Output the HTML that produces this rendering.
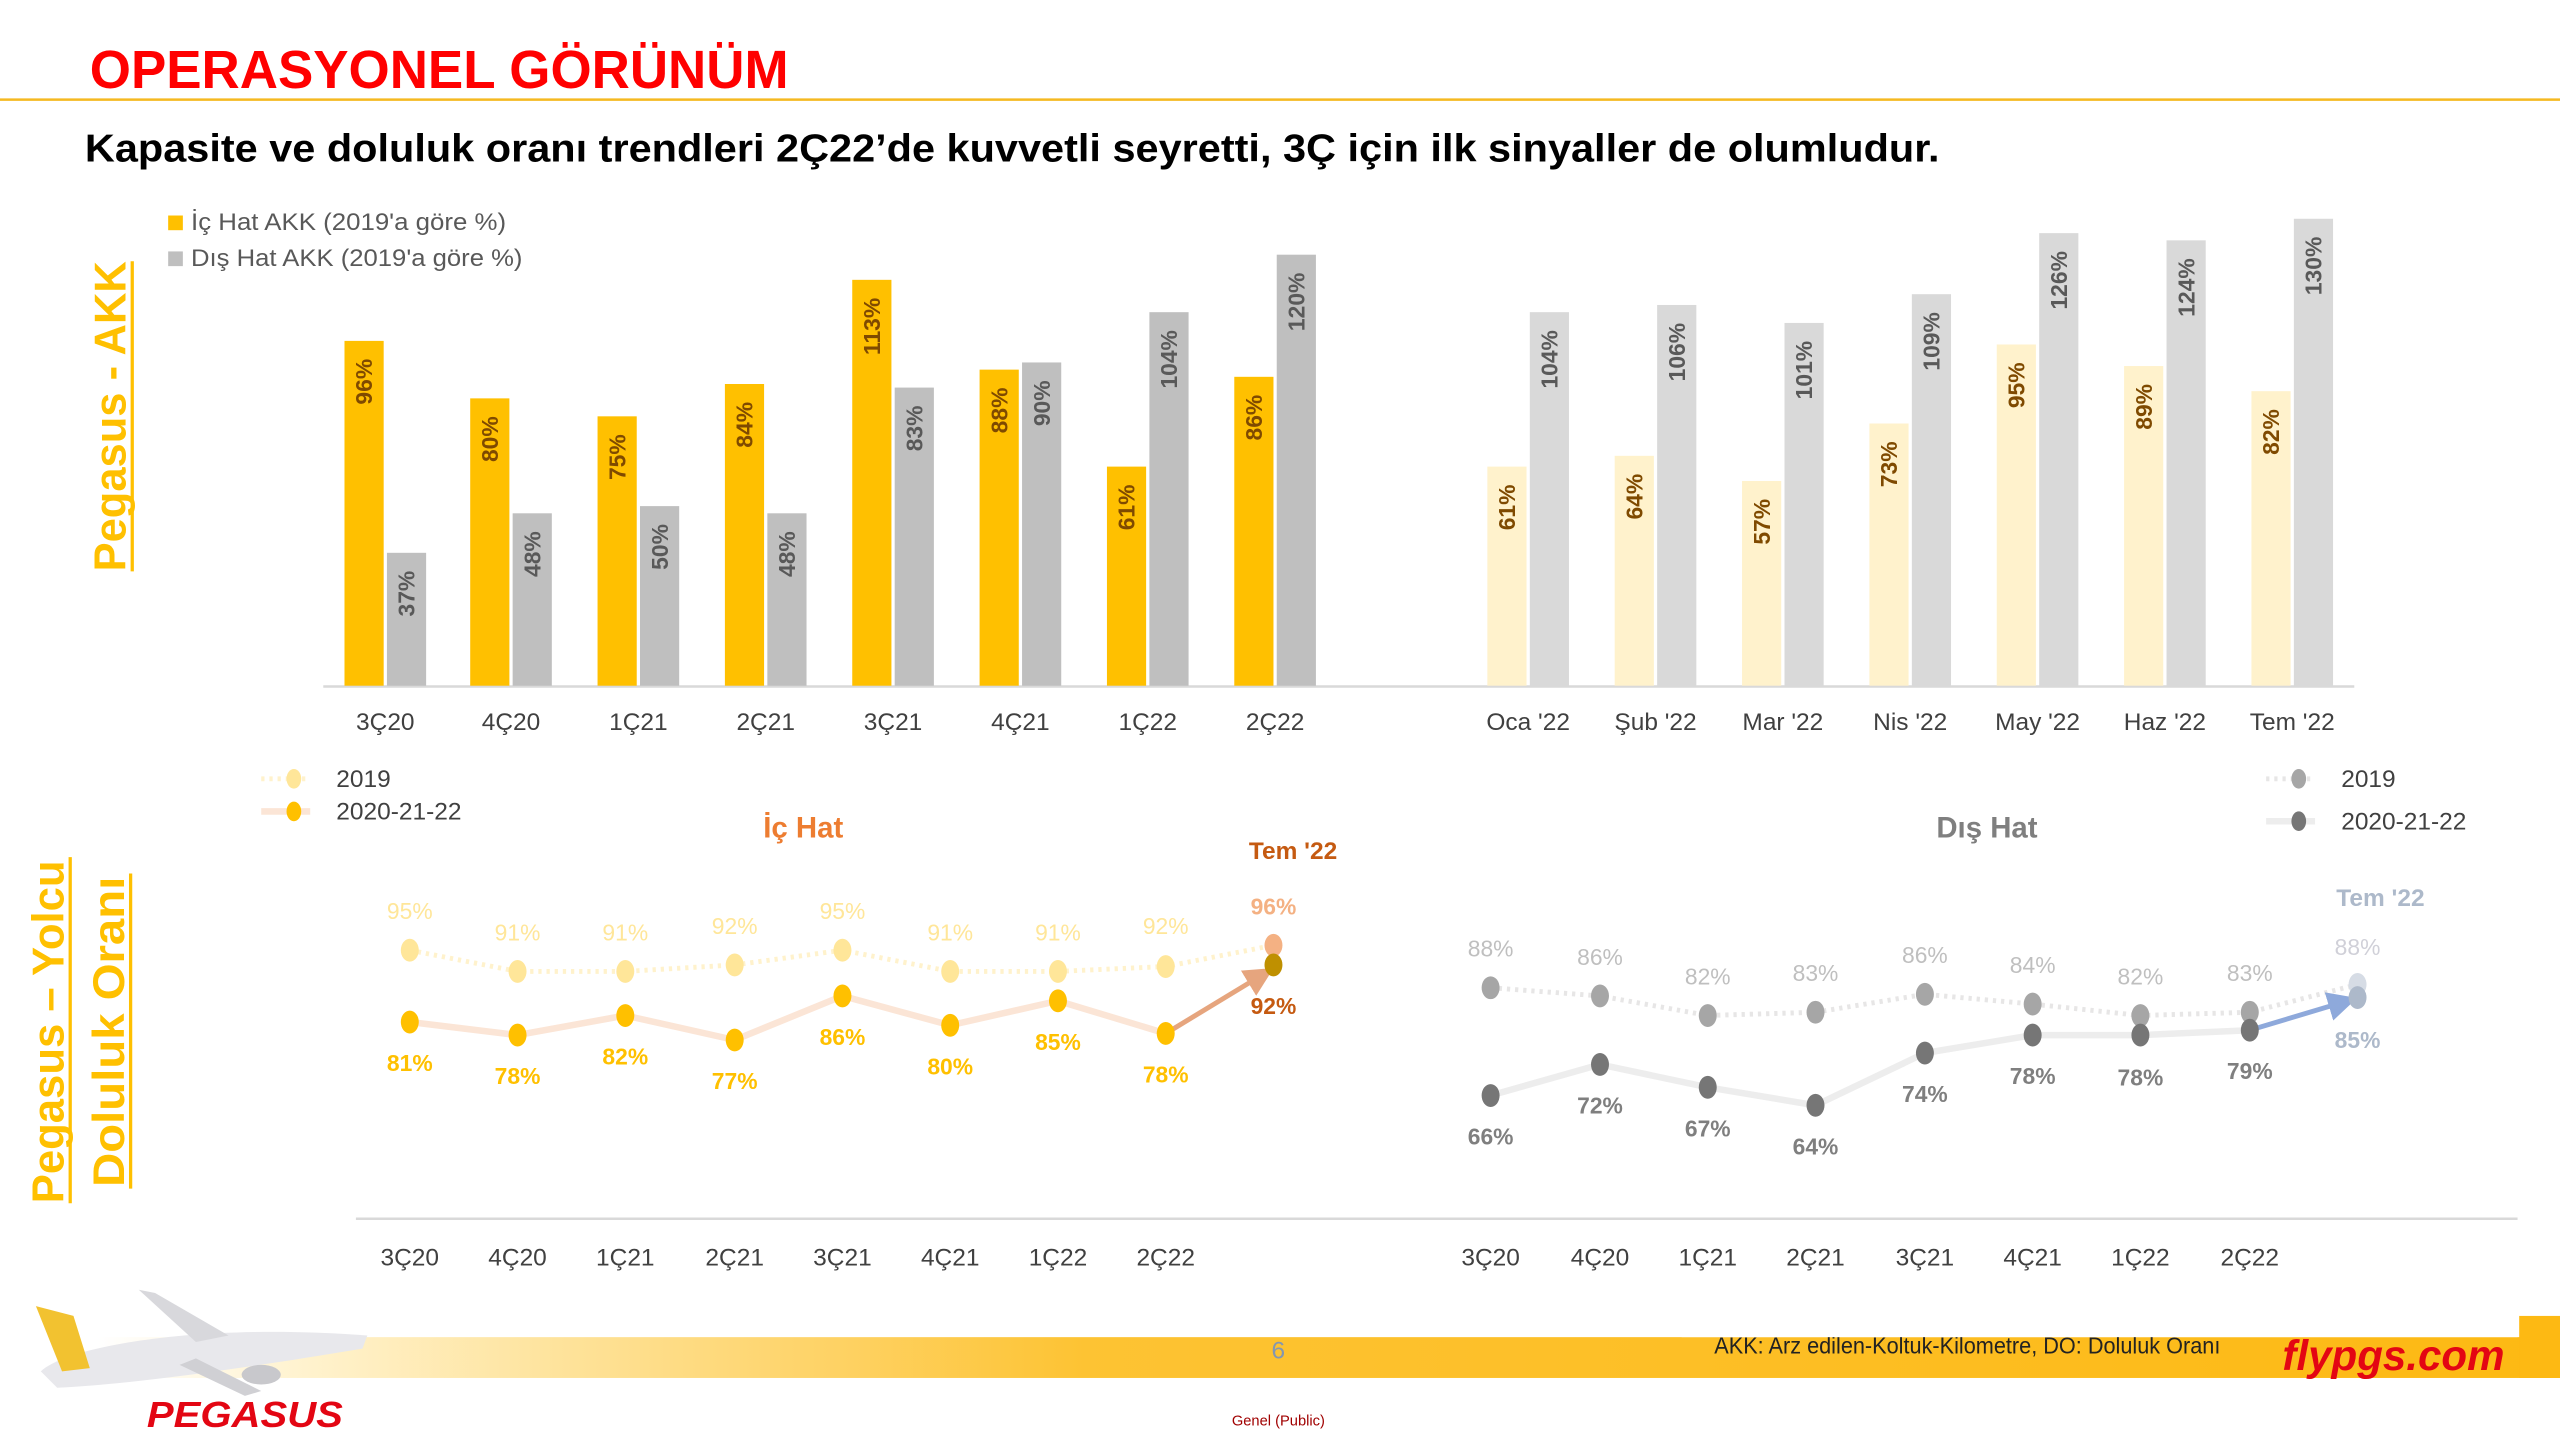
<!DOCTYPE html>
<html><head><meta charset="utf-8"><style>
html,body{margin:0;padding:0;background:#fff;}
svg{display:block;}
text{font-family:"Liberation Sans","DejaVu Sans",sans-serif;}
.cat{font-size:15px;fill:#404040;text-anchor:middle;}
.by{font-size:14px;font-weight:bold;fill:#7F4A00;text-anchor:end;}
.bg{font-size:14px;font-weight:bold;fill:#595959;text-anchor:end;}
.l19{font-size:14px;fill:#FFE699;text-anchor:middle;}
.lac{font-size:14px;font-weight:bold;fill:#FFC000;text-anchor:middle;}
.r19{font-size:14px;fill:#BFBFBF;text-anchor:middle;}
.rac{font-size:14px;font-weight:bold;fill:#7F7F7F;text-anchor:middle;}
</style></head><body>
<svg width="2560" height="1440" viewBox="0 0 1568 882" xmlns="http://www.w3.org/2000/svg">
<defs>
<linearGradient id="band" x1="0" x2="1" y1="0" y2="0">
<stop offset="0" stop-color="#FFFFFF"/><stop offset="0.08" stop-color="#FFF3D0"/><stop offset="0.4" stop-color="#FDC333"/><stop offset="1" stop-color="#FDB913"/>
</linearGradient>
<marker id="arO" markerWidth="6" markerHeight="6" refX="4" refY="3" orient="auto"><path d="M0,0 L6,3 L0,6 z" fill="#E6A57E"/></marker>
<marker id="arB" markerWidth="6" markerHeight="6" refX="4" refY="3" orient="auto"><path d="M0,0 L6,3 L0,6 z" fill="#8EA9DB"/></marker>
</defs>
<text x="55" y="54" font-size="33" font-weight="bold" fill="#FF0000" textLength="428" lengthAdjust="spacingAndGlyphs">OPERASYONEL GÖRÜNÜM</text>
<line x1="0" y1="61" x2="1568" y2="61" stroke="#F5B921" stroke-width="1.5"/>
<text x="52" y="99" font-size="24" font-weight="bold" fill="#000" textLength="1136" lengthAdjust="spacingAndGlyphs">Kapasite ve doluluk oranı trendleri 2Ç22’de kuvvetli seyretti, 3Ç için ilk sinyaller de olumludur.</text>
<rect x="103" y="132" width="9" height="9" fill="#FFC000"/>
<text x="117" y="141" font-size="15" fill="#595959" textLength="193" lengthAdjust="spacingAndGlyphs">İç Hat AKK (2019'a göre %)</text>
<rect x="103" y="154" width="9" height="9" fill="#BFBFBF"/>
<text x="117" y="163" font-size="15" fill="#595959" textLength="203" lengthAdjust="spacingAndGlyphs">Dış Hat AKK (2019'a göre %)</text>
<text transform="translate(77,255) rotate(-90)" text-anchor="middle" font-size="27" font-weight="bold" fill="#FFC000" textLength="190" lengthAdjust="spacingAndGlyphs">Pegasus - AKK</text>
<line x1="81" y1="160" x2="81" y2="350" stroke="#FFC000" stroke-width="2"/>
<text transform="translate(39,632) rotate(-90)" text-anchor="middle" font-size="27" font-weight="bold" fill="#FFC000" textLength="210" lengthAdjust="spacingAndGlyphs">Pegasus – Yolcu</text>
<line x1="43" y1="525" x2="43" y2="737" stroke="#FFC000" stroke-width="2"/>
<text transform="translate(76,632) rotate(-90)" text-anchor="middle" font-size="27" font-weight="bold" fill="#FFC000" textLength="190" lengthAdjust="spacingAndGlyphs">Doluluk Oranı</text>
<line x1="80" y1="535" x2="80" y2="728" stroke="#FFC000" stroke-width="2"/>

<line x1="198" y1="420.5" x2="1442" y2="420.5" stroke="#D9D9D9" stroke-width="1.5"/>
<g fill="#FFC000">
<rect x="211" y="208.8" width="24" height="211.2"/>
<rect x="288" y="244" width="24" height="176"/>
<rect x="366" y="255" width="24" height="165"/>
<rect x="444" y="235.2" width="24" height="184.8"/>
<rect x="522" y="171.4" width="24" height="248.6"/>
<rect x="600" y="226.4" width="24" height="193.6"/>
<rect x="678" y="285.8" width="24" height="134.2"/>
<rect x="756" y="230.8" width="24" height="189.2"/>
</g>
<g fill="#BFBFBF">
<rect x="237" y="338.6" width="24" height="81.4"/>
<rect x="314" y="314.4" width="24" height="105.6"/>
<rect x="392" y="310" width="24" height="110"/>
<rect x="470" y="314.4" width="24" height="105.6"/>
<rect x="548" y="237.4" width="24" height="182.6"/>
<rect x="626" y="222" width="24" height="198"/>
<rect x="704" y="191.2" width="24" height="228.8"/>
<rect x="782" y="156" width="24" height="264"/>
</g>
<g fill="#FFF2CC">
<rect x="911" y="285.8" width="24" height="134.2"/>
<rect x="989" y="279.2" width="24" height="140.8"/>
<rect x="1067" y="294.6" width="24" height="125.4"/>
<rect x="1145" y="259.4" width="24" height="160.6"/>
<rect x="1223" y="211" width="24" height="209"/>
<rect x="1301" y="224.2" width="24" height="195.8"/>
<rect x="1379" y="239.6" width="24" height="180.4"/>
</g>
<g fill="#D9D9D9">
<rect x="937" y="191.2" width="24" height="228.8"/>
<rect x="1015" y="186.8" width="24" height="233.2"/>
<rect x="1093" y="197.8" width="24" height="222.2"/>
<rect x="1171" y="180.2" width="24" height="239.8"/>
<rect x="1249" y="142.8" width="24" height="277.2"/>
<rect x="1327" y="147.2" width="24" height="272.8"/>
<rect x="1405" y="134" width="24" height="286"/>
</g>
<text class="by" transform="translate(228,219.8) rotate(-90)">96%</text>
<text class="by" transform="translate(305,255) rotate(-90)">80%</text>
<text class="by" transform="translate(383,266) rotate(-90)">75%</text>
<text class="by" transform="translate(461,246.2) rotate(-90)">84%</text>
<text class="by" transform="translate(539,182.4) rotate(-90)">113%</text>
<text class="by" transform="translate(617,237.4) rotate(-90)">88%</text>
<text class="by" transform="translate(695,296.8) rotate(-90)">61%</text>
<text class="by" transform="translate(773,241.8) rotate(-90)">86%</text>
<text class="bg" transform="translate(254,349.6) rotate(-90)">37%</text>
<text class="bg" transform="translate(331,325.4) rotate(-90)">48%</text>
<text class="bg" transform="translate(409,321) rotate(-90)">50%</text>
<text class="bg" transform="translate(487,325.4) rotate(-90)">48%</text>
<text class="bg" transform="translate(565,248.4) rotate(-90)">83%</text>
<text class="bg" transform="translate(643,233) rotate(-90)">90%</text>
<text class="bg" transform="translate(721,202.2) rotate(-90)">104%</text>
<text class="bg" transform="translate(799,167) rotate(-90)">120%</text>
<text class="by" transform="translate(928,296.8) rotate(-90)">61%</text>
<text class="by" transform="translate(1006,290.2) rotate(-90)">64%</text>
<text class="by" transform="translate(1084,305.6) rotate(-90)">57%</text>
<text class="by" transform="translate(1162,270.4) rotate(-90)">73%</text>
<text class="by" transform="translate(1240,222) rotate(-90)">95%</text>
<text class="by" transform="translate(1318,235.2) rotate(-90)">89%</text>
<text class="by" transform="translate(1396,250.6) rotate(-90)">82%</text>
<text class="bg" transform="translate(954,202.2) rotate(-90)">104%</text>
<text class="bg" transform="translate(1032,197.8) rotate(-90)">106%</text>
<text class="bg" transform="translate(1110,208.8) rotate(-90)">101%</text>
<text class="bg" transform="translate(1188,191.2) rotate(-90)">109%</text>
<text class="bg" transform="translate(1266,153.8) rotate(-90)">126%</text>
<text class="bg" transform="translate(1344,158.2) rotate(-90)">124%</text>
<text class="bg" transform="translate(1422,145) rotate(-90)">130%</text>
<text x="236" y="447" class="cat">3Ç20</text><text x="313" y="447" class="cat">4Ç20</text><text x="391" y="447" class="cat">1Ç21</text><text x="469" y="447" class="cat">2Ç21</text><text x="547" y="447" class="cat">3Ç21</text><text x="625" y="447" class="cat">4Ç21</text><text x="703" y="447" class="cat">1Ç22</text><text x="781" y="447" class="cat">2Ç22</text>
<text x="936" y="447" class="cat">Oca '22</text><text x="1014" y="447" class="cat">Şub '22</text><text x="1092" y="447" class="cat">Mar '22</text><text x="1170" y="447" class="cat">Nis '22</text><text x="1248" y="447" class="cat">May '22</text><text x="1326" y="447" class="cat">Haz '22</text><text x="1404" y="447" class="cat">Tem '22</text>

<line x1="160" y1="477" x2="190" y2="477" stroke="#FFF2CC" stroke-width="3" stroke-dasharray="2 3"/>
<ellipse cx="180" cy="477" rx="4.5" ry="6" fill="#FFE699"/>
<text x="206" y="482" font-size="15" fill="#404040">2019</text>
<line x1="160" y1="497" x2="190" y2="497" stroke="#FBE5D6" stroke-width="4"/>
<ellipse cx="180" cy="497" rx="4.5" ry="6" fill="#FFC000"/>
<text x="206" y="502" font-size="15" fill="#404040">2020-21-22</text>
<line x1="1388" y1="477" x2="1418" y2="477" stroke="#E7E6E6" stroke-width="3" stroke-dasharray="2 3"/>
<ellipse cx="1408" cy="477" rx="4.5" ry="6" fill="#A6A6A6"/>
<text x="1434" y="482" font-size="15" fill="#404040">2019</text>
<line x1="1388" y1="503" x2="1418" y2="503" stroke="#EDEDED" stroke-width="4"/>
<ellipse cx="1408" cy="503" rx="4.5" ry="6" fill="#767676"/>
<text x="1434" y="508" font-size="15" fill="#404040">2020-21-22</text>

<text x="492" y="513" text-anchor="middle" font-size="18" font-weight="bold" fill="#ED7D31">İç Hat</text>
<text x="1217" y="513" text-anchor="middle" font-size="18" font-weight="bold" fill="#7F7F7F">Dış Hat</text>
<text x="792" y="526" text-anchor="middle" font-size="15" font-weight="bold" fill="#C55A11">Tem '22</text>
<text x="1458" y="555" text-anchor="middle" font-size="15" font-weight="bold" fill="#ADB9CA">Tem '22</text>

<polyline points="251,582 317,595 383,595 450,591 516,582 582,595 648,595 714,592 780,579" fill="none" stroke="#FFF2CC" stroke-width="3" stroke-dasharray="2 3"/>
<polyline points="251,626 317,634 383,622 450,637 516,610 582,628 648,613 714,633" fill="none" stroke="#FBE5D6" stroke-width="4"/>
<line x1="714" y1="633" x2="775" y2="596" stroke="#E6A57E" stroke-width="3" marker-end="url(#arO)"/>
<g fill="#FFE699">
<ellipse cx="251" cy="582" rx="5.5" ry="7"/><ellipse cx="317" cy="595" rx="5.5" ry="7"/><ellipse cx="383" cy="595" rx="5.5" ry="7"/><ellipse cx="450" cy="591" rx="5.5" ry="7"/><ellipse cx="516" cy="582" rx="5.5" ry="7"/><ellipse cx="582" cy="595" rx="5.5" ry="7"/><ellipse cx="648" cy="595" rx="5.5" ry="7"/><ellipse cx="714" cy="592" rx="5.5" ry="7"/>
</g>
<ellipse cx="780" cy="579" rx="5.5" ry="7" fill="#F4B183"/>
<g fill="#FFC000">
<ellipse cx="251" cy="626" rx="5.5" ry="7"/><ellipse cx="317" cy="634" rx="5.5" ry="7"/><ellipse cx="383" cy="622" rx="5.5" ry="7"/><ellipse cx="450" cy="637" rx="5.5" ry="7"/><ellipse cx="516" cy="610" rx="5.5" ry="7"/><ellipse cx="582" cy="628" rx="5.5" ry="7"/><ellipse cx="648" cy="613" rx="5.5" ry="7"/><ellipse cx="714" cy="633" rx="5.5" ry="7"/>
</g>
<ellipse cx="780" cy="591" rx="5.5" ry="7" fill="#BF9000"/>
<text class="l19" x="251" y="563">95%</text><text class="l19" x="317" y="576">91%</text><text class="l19" x="383" y="576">91%</text><text class="l19" x="450" y="572">92%</text><text class="l19" x="516" y="563">95%</text><text class="l19" x="582" y="576">91%</text><text class="l19" x="648" y="576">91%</text><text class="l19" x="714" y="572">92%</text>
<text x="780" y="560" text-anchor="middle" font-size="14" font-weight="bold" fill="#F4B183">96%</text>
<text class="lac" x="251" y="656">81%</text><text class="lac" x="317" y="664">78%</text><text class="lac" x="383" y="652">82%</text><text class="lac" x="450" y="667">77%</text><text class="lac" x="516" y="640">86%</text><text class="lac" x="582" y="658">80%</text><text class="lac" x="648" y="643">85%</text><text class="lac" x="714" y="663">78%</text>
<text x="780" y="621" text-anchor="middle" font-size="14" font-weight="bold" fill="#C55A11">92%</text>

<polyline points="913,605 980,610 1046,622 1112,620 1179,609 1245,615 1311,622 1378,620 1444,603" fill="none" stroke="#E7E6E6" stroke-width="3" stroke-dasharray="2 3"/>
<polyline points="913,671 980,652 1046,666 1112,677 1179,645 1245,634 1311,634 1378,631" fill="none" stroke="#EDEDED" stroke-width="4"/>
<line x1="1378" y1="631" x2="1438" y2="613" stroke="#8EA9DB" stroke-width="3" marker-end="url(#arB)"/>
<g fill="#A6A6A6">
<ellipse cx="913" cy="605" rx="5.5" ry="7"/><ellipse cx="980" cy="610" rx="5.5" ry="7"/><ellipse cx="1046" cy="622" rx="5.5" ry="7"/><ellipse cx="1112" cy="620" rx="5.5" ry="7"/><ellipse cx="1179" cy="609" rx="5.5" ry="7"/><ellipse cx="1245" cy="615" rx="5.5" ry="7"/><ellipse cx="1311" cy="622" rx="5.5" ry="7"/><ellipse cx="1378" cy="620" rx="5.5" ry="7"/>
</g>
<ellipse cx="1444" cy="603" rx="5.5" ry="7" fill="#D6DCE5"/>
<g fill="#767676">
<ellipse cx="913" cy="671" rx="5.5" ry="7"/><ellipse cx="980" cy="652" rx="5.5" ry="7"/><ellipse cx="1046" cy="666" rx="5.5" ry="7"/><ellipse cx="1112" cy="677" rx="5.5" ry="7"/><ellipse cx="1179" cy="645" rx="5.5" ry="7"/><ellipse cx="1245" cy="634" rx="5.5" ry="7"/><ellipse cx="1311" cy="634" rx="5.5" ry="7"/><ellipse cx="1378" cy="631" rx="5.5" ry="7"/>
</g>
<ellipse cx="1444" cy="611" rx="5.5" ry="7" fill="#ADB9CA"/>
<text class="r19" x="913" y="586">88%</text><text class="r19" x="980" y="591">86%</text><text class="r19" x="1046" y="603">82%</text><text class="r19" x="1112" y="601">83%</text><text class="r19" x="1179" y="590">86%</text><text class="r19" x="1245" y="596">84%</text><text class="r19" x="1311" y="603">82%</text><text class="r19" x="1378" y="601">83%</text>
<text x="1444" y="585" text-anchor="middle" font-size="14" fill="#D0D0D8">88%</text>
<text class="rac" x="913" y="701">66%</text><text class="rac" x="980" y="682">72%</text><text class="rac" x="1046" y="696">67%</text><text class="rac" x="1112" y="707">64%</text><text class="rac" x="1179" y="675">74%</text><text class="rac" x="1245" y="664">78%</text><text class="rac" x="1311" y="665">78%</text><text class="rac" x="1378" y="661">79%</text>
<text x="1444" y="642" text-anchor="middle" font-size="14" font-weight="bold" fill="#ADB9CA">85%</text>

<line x1="218" y1="746.5" x2="1542" y2="746.5" stroke="#D9D9D9" stroke-width="1.5"/>
<text x="251" y="775" class="cat">3Ç20</text><text x="317" y="775" class="cat">4Ç20</text><text x="383" y="775" class="cat">1Ç21</text><text x="450" y="775" class="cat">2Ç21</text><text x="516" y="775" class="cat">3Ç21</text><text x="582" y="775" class="cat">4Ç21</text><text x="648" y="775" class="cat">1Ç22</text><text x="714" y="775" class="cat">2Ç22</text>
<text x="913" y="775" class="cat">3Ç20</text><text x="980" y="775" class="cat">4Ç20</text><text x="1046" y="775" class="cat">1Ç21</text><text x="1112" y="775" class="cat">2Ç21</text><text x="1179" y="775" class="cat">3Ç21</text><text x="1245" y="775" class="cat">4Ç21</text><text x="1311" y="775" class="cat">1Ç22</text><text x="1378" y="775" class="cat">2Ç22</text>

<rect x="60" y="819" width="1508" height="25" fill="url(#band)"/>
<rect x="1543" y="806" width="25" height="38" fill="#FDB913"/>
<text x="783" y="832" text-anchor="middle" font-size="15" fill="#8497B0">6</text>
<text x="1050" y="829" font-size="14" fill="#222" textLength="310" lengthAdjust="spacingAndGlyphs">AKK: Arz edilen-Koltuk-Kilometre, DO: Doluluk Oranı</text>
<text x="1398" y="839" font-size="26" font-weight="bold" font-style="italic" fill="#E30613" textLength="136" lengthAdjust="spacingAndGlyphs">flypgs.com</text>
<rect x="1030" y="800" width="512" height="19" fill="#fff"/>
<g>
<path d="M25,840 C40,825 120,810 225,818 L222,826 C150,838 80,848 35,850 Z" fill="#E8E8EC"/>
<path d="M22,800 L45,806 L55,838 L38,840 Z" fill="#F2C230"/>
<path d="M85,790 L95,792 L140,818 L120,822 Z" fill="#D8D8DC"/>
<path d="M120,832 L160,852 L150,855 L110,836 Z" fill="#D0D0D4"/>
<ellipse cx="160" cy="842" rx="12" ry="6" fill="#C8C8CC"/>
</g>
<text x="150" y="874" text-anchor="middle" font-size="22" font-weight="bold" font-style="italic" fill="#E30613" textLength="120" lengthAdjust="spacingAndGlyphs">PEGASUS</text>
<text x="783" y="873" text-anchor="middle" font-size="9" fill="#A00000">Genel (Public)</text>
</svg>
</body></html>
